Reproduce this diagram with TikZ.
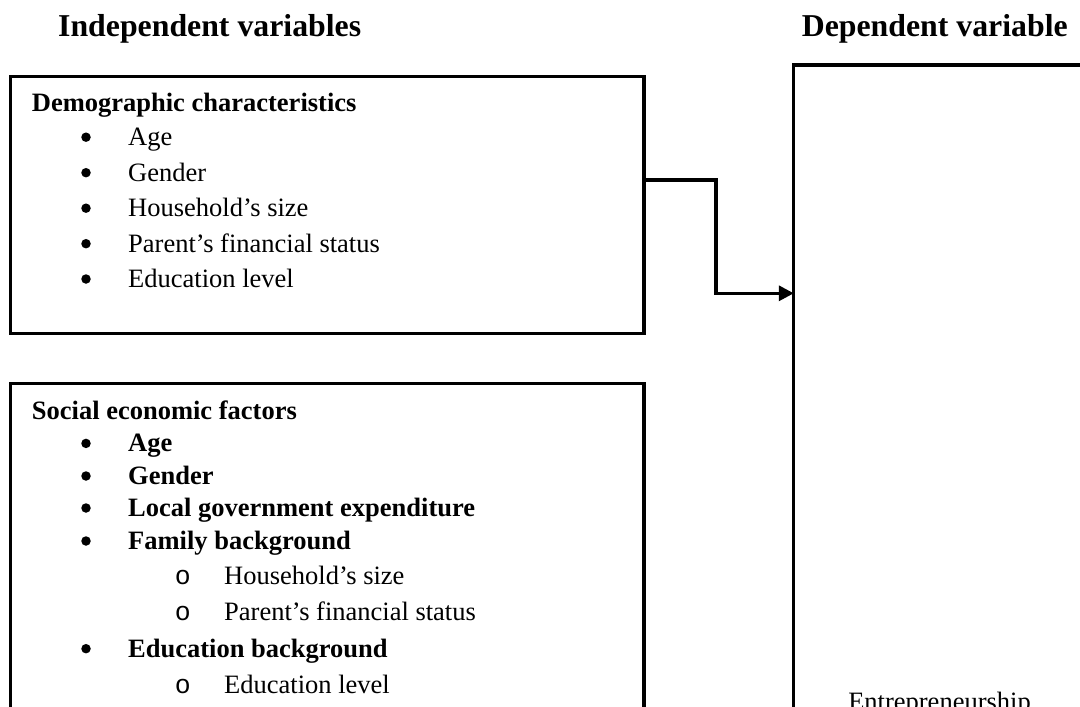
\documentclass[tikz,border=0pt]{standalone}
\usepackage{fontspec}
\setmainfont{Liberation Serif}
\newfontfamily\ringfont{Liberation Mono}
\usetikzlibrary{arrows.meta}
\begin{document}
\begin{tikzpicture}[x=1pt,y=-1pt,
  box/.style={draw, line width=3.3pt, anchor=north west, inner sep=0pt, outer sep=0pt},
  body/.style={anchor=base west, inner sep=0pt, font=\fontsize{26.5}{32}\selectfont},
  head/.style={anchor=base west, inner sep=0pt, font=\fontsize{26.5}{32}\selectfont\bfseries},
  ttl/.style={anchor=base, inner sep=0pt, font=\fontsize{31.8}{38}\selectfont\bfseries},
  dot/.style={circle, fill, inner sep=0pt, minimum size=9.5pt},
  ring/.style={anchor=base, inner sep=0pt, font=\fontsize{26.5}{32}\selectfont\ringfont},
  arr/.style={line width=3.3pt, -{Triangle[length=15pt,width=15pt]}}]
\useasboundingbox (0,0) rectangle (1080,707);
\begin{scope}
\clip (0,0) rectangle (1080,707);
% titles
\node[ttl] (tin) at (209.7,36.7) {Independent variables};
\node[ttl] (tdep) at (934.8,36.7) {Dependent variable};
% boxes
\node[box, minimum width=633.2pt, minimum height=256.6pt] (demo) at (10.8,76.7) {};
\node[box, minimum width=633.2pt, minimum height=420pt] (soc) at (10.8,383.3) {};
\node[box, minimum width=320pt, minimum height=740pt] (dep) at (793.8,65) {};
% box 1 content
\node[head] (dh) at (31.7,111.5) {Demographic characteristics};
\foreach \t/\y [count=\i] in {Age/145.5, Gender/181, Household’s size/216.5, Parent’s financial status/252, Education level/287.3}{
  \node[dot] (db\i) at (86,\y-8.3) {};
  \node[body] (dt\i) at (128,\y) {\t};
}
% box 2 content
\node[head] (sh) at (31.7,419.3) {Social economic factors};
\foreach \t/\y [count=\i] in {Age/451.7, Gender/484.3, Local government expenditure/516.3, Family background/549.3, Education background/657}{
  \node[dot] (sb\i) at (86,\y-8.3) {};
  \node[head] (st\i) at (128,\y) {\t};
}
\foreach \t/\y [count=\i] in {Household’s size/584.5, Parent’s financial status/620, Education level/693.3}{
  \node[ring] (sr\i) at (182.7,\y) {o};
  \node[body] (ss\i) at (224,\y) {\t};
}
% dependent
\node[body, anchor=base] (ent) at (939.5,710.8) {Entrepreneurship};
% connector
\coordinate (a0) at (0,180);
\coordinate (a1) at (0,293.3);
\coordinate (k) at (716,0);
\draw[arr] (demo.east |- a0) -| (k |- a1) -- (dep.west |- a1);
\end{scope}
\end{tikzpicture}
\end{document}
